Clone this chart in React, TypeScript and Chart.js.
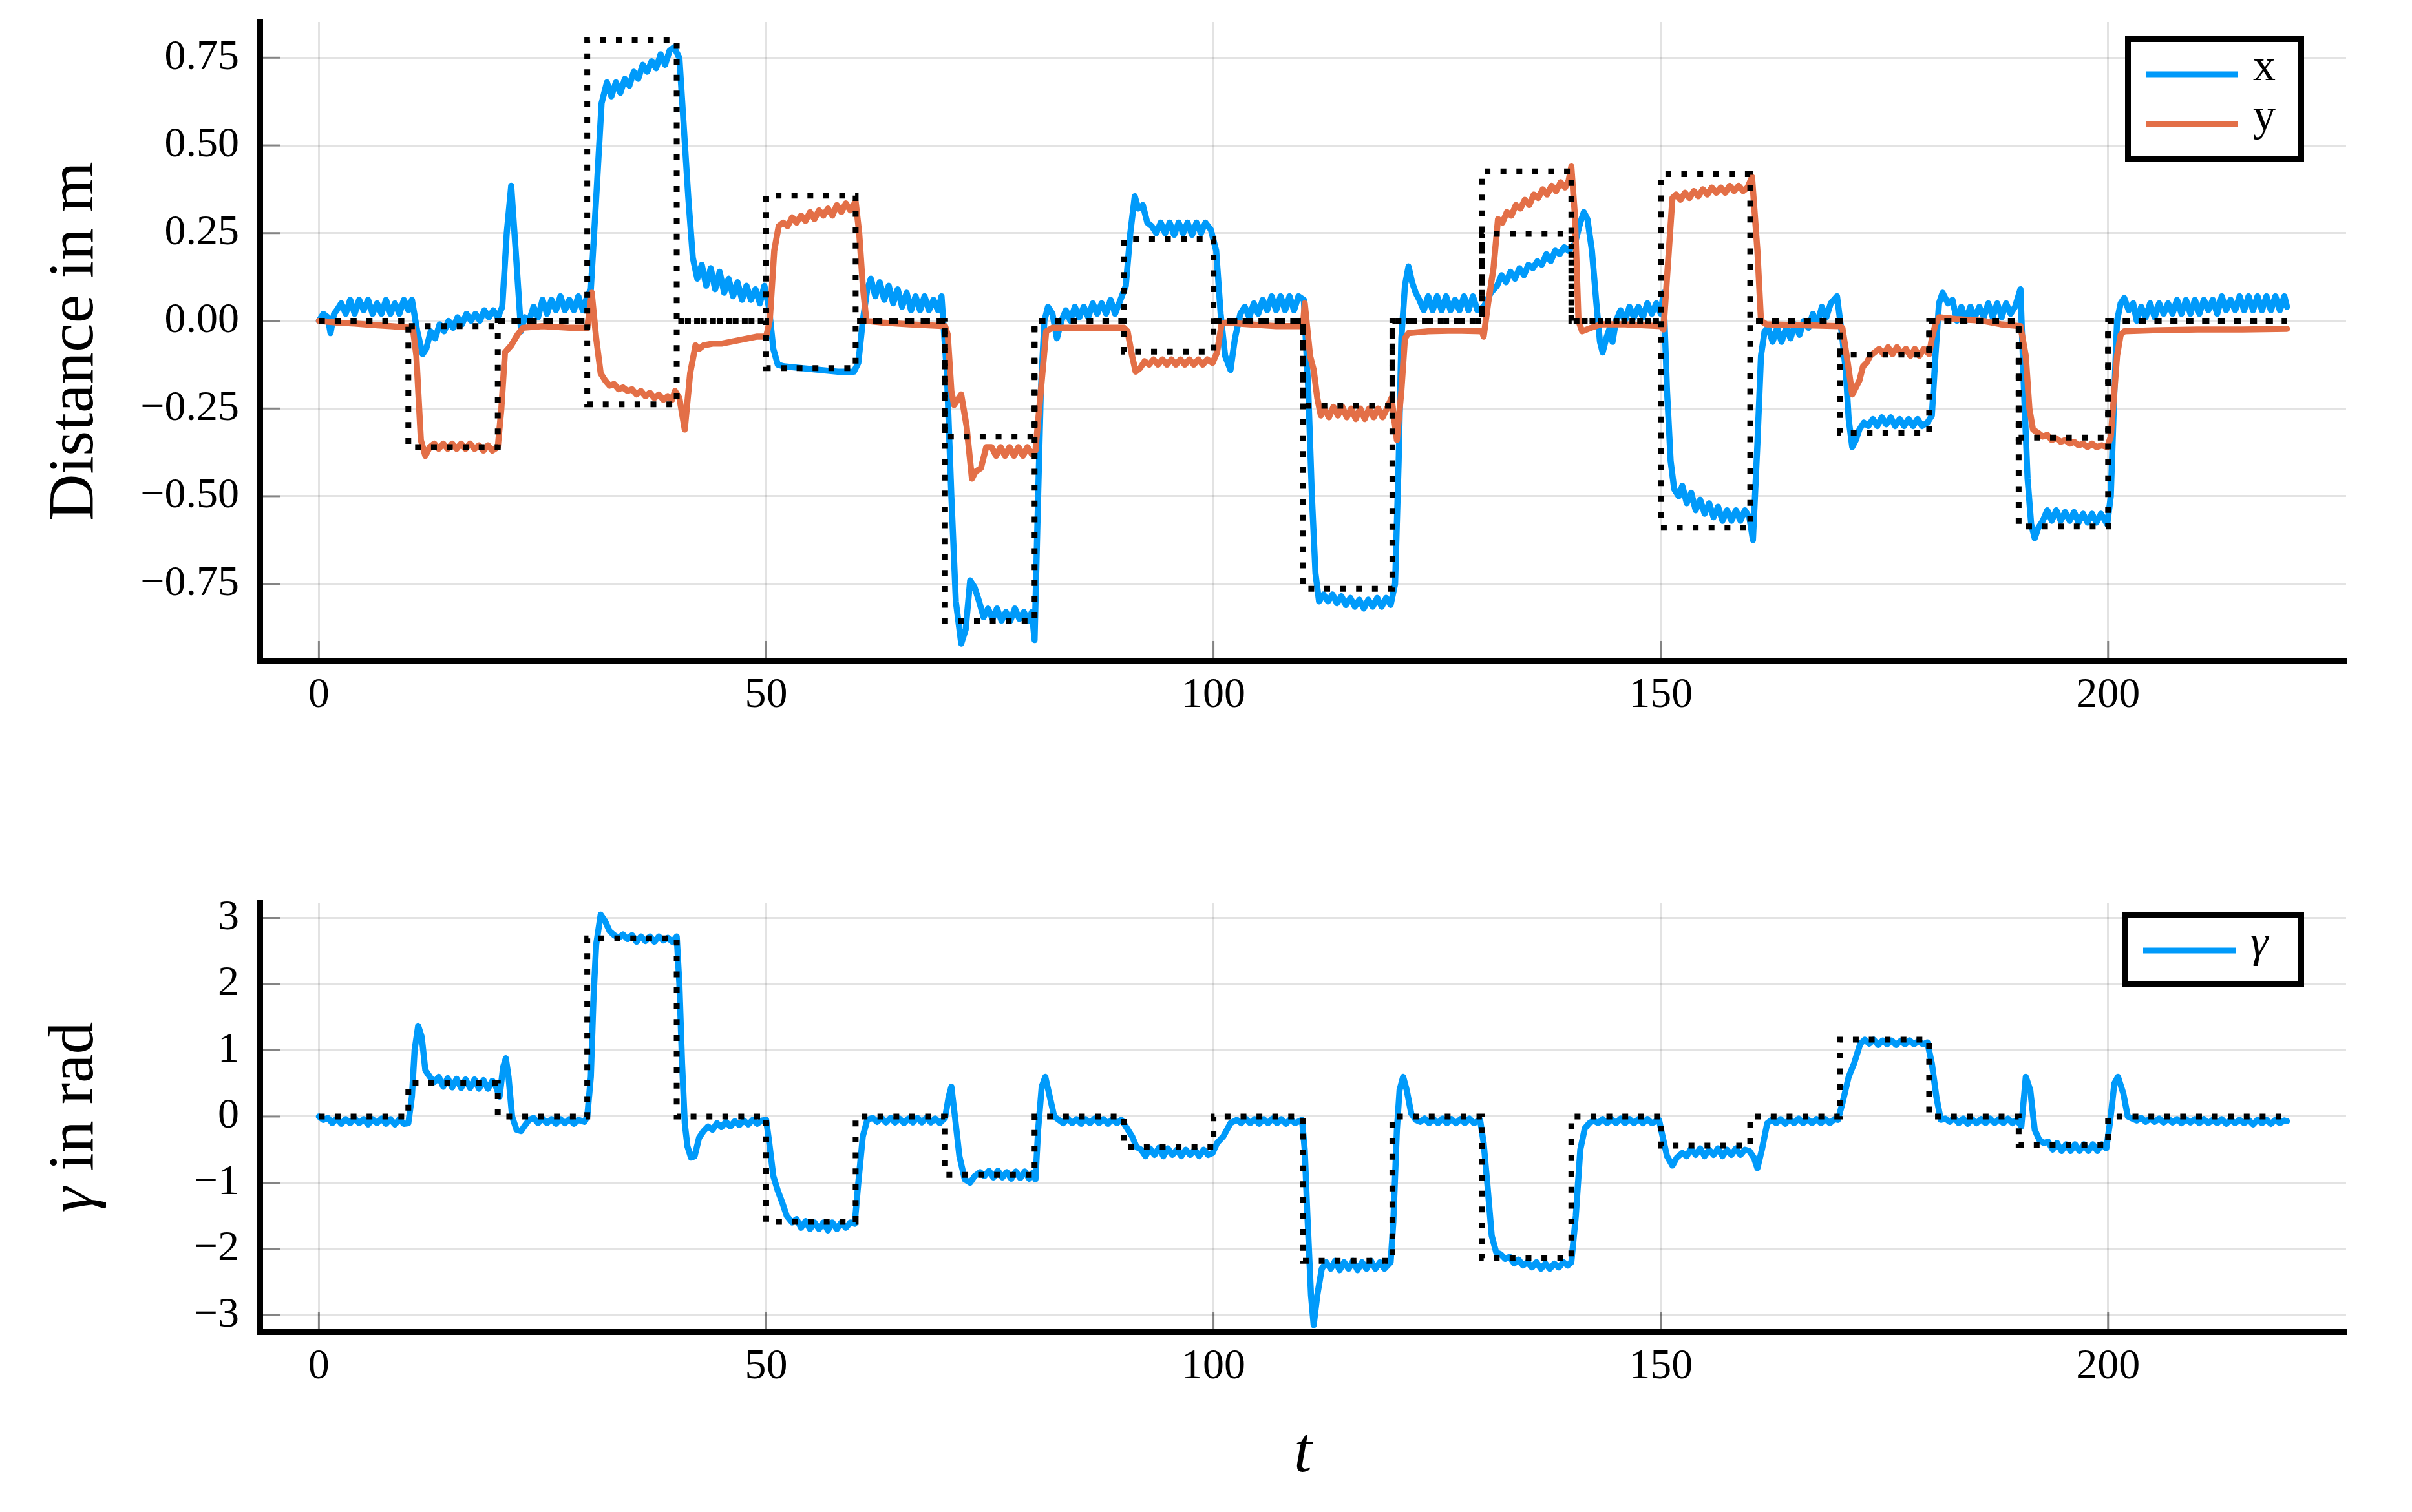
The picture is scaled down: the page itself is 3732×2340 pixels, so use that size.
import React, { useEffect, useRef } from 'react';
import { Chart, registerables } from 'chart.js';

Chart.register(...registerables);

const FONT = '"Liberation Serif", "Times New Roman", serif';
const BLUE = '#009AFA';
const ORANGE = '#E36F47';
const GRID = 'rgba(0,0,0,0.11)';

const W = 3732;
const H1 = 1190;
const H2 = 1150;

// ---------- axis ticks ----------
const xTicks = [0, 50, 100, 150, 200];
const distTicks = [-0.75, -0.5, -0.25, 0, 0.25, 0.5, 0.75];
const gammaTicks = [-3, -2, -1, 0, 1, 2, 3];

// ---------- reference (dotted) step signals ----------
const refStarts = [10, 30, 50, 70, 90, 110, 130, 150, 170, 190];
const refDuration = 10;
const refEnd = 220;
const refXValues = [-0.015, 0.8, -0.135, -0.855, 0.232, -0.764, 0.248, -0.59, -0.319, -0.586];
const refYValues = [-0.36, -0.238, 0.357, -0.33, -0.088, -0.242, 0.426, 0.418, -0.096, -0.333];
const refGammaValues = [0.505, 2.69, -1.59, -0.88, -0.46, -2.18, -2.14, -0.44, 1.16, -0.43];

// ---------- measured signals [t, value] ----------
const xSeries: [number, number][] = [
  [0, 0], [0.5, 0.02], [1, 0.01], [1.3, -0.035], [1.7, 0.02], [2, 0.03], [2.5, 0.05], [3, 0.02], [3.5, 0.06], [4, 0.02],
  [4.5, 0.06], [5, 0.03], [5.5, 0.06], [6, 0.02], [6.5, 0.05], [7, 0.02], [7.5, 0.06], [8, 0.02], [8.5, 0.05], [9, 0.02],
  [9.5, 0.06], [10, 0.03], [10.4, 0.06], [11, -0.03], [11.6, -0.095], [12, -0.08], [12.5, -0.03], [13, -0.05], [13.5, -0.01], [14, -0.03],
  [14.5, 0], [15, -0.02], [15.5, 0.01], [16, -0.01], [16.5, 0.02], [17, 0], [17.5, 0.02], [18, 0], [18.5, 0.03], [19, 0.01],
  [19.5, 0.03], [20, 0.01], [20.5, 0.04], [21, 0.25], [21.5, 0.385], [22, 0.2], [22.6, -0.03], [23, 0.01], [23.5, 0], [24, 0.04],
  [24.5, 0.01], [25, 0.06], [25.5, 0.02], [26, 0.06], [26.5, 0.03], [27, 0.07], [27.5, 0.03], [28, 0.06], [28.5, 0.03], [29, 0.07],
  [29.5, 0.03], [30, 0.07], [30.4, 0.09], [31, 0.35], [31.6, 0.62], [32.2, 0.68], [32.7, 0.64], [33.2, 0.68], [33.7, 0.65], [34.2, 0.69],
  [34.7, 0.67], [35.2, 0.71], [35.7, 0.69], [36.2, 0.73], [36.7, 0.71], [37.2, 0.74], [37.7, 0.72], [38.2, 0.76], [38.7, 0.73], [39.2, 0.77],
  [39.7, 0.78], [40.3, 0.75], [40.8, 0.55], [41.3, 0.35], [41.8, 0.18], [42.3, 0.12], [42.8, 0.16], [43.3, 0.1], [43.8, 0.15], [44.3, 0.09],
  [44.8, 0.14], [45.3, 0.08], [45.8, 0.12], [46.3, 0.07], [46.8, 0.11], [47.3, 0.06], [47.8, 0.1], [48.3, 0.06], [48.8, 0.09], [49.3, 0.05],
  [49.8, 0.1], [50.3, 0.04], [50.8, -0.08], [51.3, -0.125], [52, -0.13], [54, -0.135], [56, -0.14], [58, -0.145], [59.8, -0.145], [60.3, -0.12],
  [60.8, 0], [61.3, 0.09], [61.7, 0.12], [62.2, 0.07], [62.7, 0.11], [63.2, 0.06], [63.7, 0.1], [64.2, 0.05], [64.7, 0.09], [65.2, 0.04],
  [65.7, 0.08], [66.2, 0.03], [66.7, 0.07], [67.2, 0.03], [67.7, 0.07], [68.2, 0.03], [68.7, 0.06], [69.2, 0.03], [69.6, 0.07], [70.2, -0.15],
  [70.7, -0.5], [71.2, -0.8], [71.8, -0.92], [72.3, -0.88], [72.8, -0.74], [73.3, -0.76], [73.8, -0.8], [74.3, -0.845], [74.8, -0.82], [75.3, -0.85],
  [75.8, -0.82], [76.3, -0.855], [76.8, -0.83], [77.3, -0.855], [77.8, -0.82], [78.3, -0.85], [78.8, -0.83], [79.3, -0.855], [79.7, -0.83], [80, -0.91],
  [80.3, -0.6], [80.7, -0.2], [81.1, 0], [81.5, 0.04], [82, 0.02], [82.5, -0.05], [83, 0], [83.5, 0.03], [84, 0], [84.5, 0.04],
  [85, 0.01], [85.5, 0.04], [86, 0.01], [86.5, 0.05], [87, 0.02], [87.5, 0.05], [88, 0.02], [88.5, 0.06], [89, 0.02], [89.6, 0.06],
  [90.2, 0.1], [90.7, 0.25], [91.2, 0.355], [91.6, 0.32], [92.1, 0.33], [92.6, 0.28], [93.1, 0.27], [93.6, 0.25], [94.1, 0.28], [94.6, 0.25],
  [95.1, 0.28], [95.6, 0.245], [96.1, 0.28], [96.6, 0.25], [97.1, 0.28], [97.6, 0.245], [98.1, 0.28], [98.6, 0.25], [99.1, 0.28], [99.7, 0.26],
  [100.3, 0.2], [100.8, 0.02], [101.3, -0.1], [101.9, -0.14], [102.4, -0.05], [103, 0.02], [103.5, 0.04], [104, 0.01], [104.5, 0.05], [105, 0.02],
  [105.5, 0.06], [106, 0.03], [106.5, 0.07], [107, 0.03], [107.5, 0.07], [108, 0.03], [108.5, 0.07], [109, 0.03], [109.5, 0.07], [110.1, 0.06],
  [110.6, -0.2], [111, -0.5], [111.4, -0.72], [111.8, -0.8], [112.3, -0.78], [112.8, -0.8], [113.3, -0.78], [113.8, -0.805], [114.3, -0.785], [114.8, -0.81],
  [115.3, -0.79], [115.8, -0.815], [116.3, -0.795], [116.8, -0.82], [117.3, -0.795], [117.8, -0.815], [118.3, -0.79], [118.8, -0.815], [119.3, -0.79], [119.8, -0.81],
  [120.3, -0.75], [120.7, -0.4], [121, -0.05], [121.4, 0.1], [121.8, 0.155], [122.2, 0.11], [122.6, 0.08], [123, 0.06], [123.5, 0.03], [124, 0.07],
  [124.5, 0.03], [125, 0.07], [125.5, 0.03], [126, 0.07], [126.5, 0.03], [127, 0.06], [127.5, 0.03], [128, 0.07], [128.5, 0.03], [129, 0.07],
  [129.5, 0.03], [130.2, 0.04], [131, 0.08], [131.7, 0.1], [132.2, 0.13], [132.7, 0.11], [133.2, 0.14], [133.7, 0.12], [134.2, 0.15], [134.7, 0.13],
  [135.2, 0.16], [135.7, 0.15], [136.2, 0.17], [136.7, 0.16], [137.2, 0.19], [137.7, 0.17], [138.2, 0.2], [138.7, 0.19], [139.2, 0.21], [139.7, 0.2],
  [140.4, 0.22], [141, 0.28], [141.4, 0.31], [141.8, 0.29], [142.3, 0.2], [142.8, 0.05], [143.2, -0.06], [143.5, -0.09], [143.9, -0.05], [144.3, -0.02],
  [144.6, -0.06], [145, 0], [145.5, 0.03], [146, 0], [146.5, 0.04], [147, 0.01], [147.5, 0.04], [148, 0.01], [148.5, 0.05], [149, 0.02],
  [149.5, 0.05], [150, 0.02], [150.3, 0.08], [150.7, -0.2], [151.1, -0.4], [151.5, -0.48], [152, -0.5], [152.4, -0.47], [152.9, -0.52], [153.4, -0.49],
  [153.9, -0.54], [154.4, -0.51], [154.9, -0.55], [155.4, -0.52], [155.9, -0.56], [156.4, -0.53], [156.9, -0.57], [157.4, -0.54], [157.9, -0.57], [158.4, -0.54],
  [158.9, -0.57], [159.4, -0.54], [159.9, -0.56], [160.3, -0.625], [160.8, -0.35], [161.2, -0.1], [161.6, -0.03], [162, -0.02], [162.5, -0.06], [163, -0.02],
  [163.5, -0.06], [164, -0.02], [164.5, -0.05], [165, -0.01], [165.5, -0.04], [166, 0], [166.5, -0.02], [167, 0.02], [167.5, -0.01], [168, 0.04],
  [168.5, 0.01], [169, 0.05], [169.7, 0.07], [170.3, -0.05], [170.7, -0.15], [171, -0.28], [171.4, -0.36], [171.8, -0.34], [172.2, -0.31], [172.7, -0.29],
  [173.2, -0.3], [173.7, -0.28], [174.2, -0.3], [174.7, -0.275], [175.2, -0.295], [175.7, -0.275], [176.2, -0.3], [176.7, -0.28], [177.2, -0.3], [177.7, -0.28],
  [178.2, -0.3], [178.7, -0.28], [179.2, -0.3], [179.8, -0.29], [180.3, -0.27], [180.7, -0.1], [181.1, 0.05], [181.5, 0.08], [182.1, 0.05], [182.6, 0.06],
  [183.1, 0], [183.6, 0.04], [184.1, 0], [184.6, 0.04], [185.1, 0.01], [185.6, 0.04], [186.1, 0.01], [186.6, 0.05], [187.1, 0.01], [187.6, 0.05],
  [188.1, 0.01], [188.6, 0.05], [189.1, 0.02], [189.6, 0.04], [190.2, 0.09], [190.6, -0.2], [191, -0.45], [191.4, -0.58], [191.8, -0.62], [192.2, -0.59],
  [192.7, -0.57], [193.2, -0.54], [193.7, -0.57], [194.2, -0.54], [194.7, -0.57], [195.2, -0.545], [195.7, -0.57], [196.2, -0.545], [196.7, -0.575], [197.2, -0.55],
  [197.7, -0.575], [198.2, -0.55], [198.7, -0.575], [199.2, -0.55], [199.9, -0.58], [200.3, -0.5], [200.7, -0.2], [201, 0], [201.4, 0.05], [201.8, 0.065],
  [202.3, 0.03], [202.8, 0.05], [203.2, 0], [203.7, 0.04], [204.2, 0.01], [204.7, 0.05], [205.2, 0.01], [205.7, 0.05], [206.2, 0.02], [206.7, 0.05],
  [207.2, 0.02], [207.7, 0.06], [208.2, 0.02], [208.7, 0.06], [209.2, 0.02], [209.7, 0.06], [210.2, 0.02], [210.7, 0.06], [211.2, 0.03], [211.7, 0.06],
  [212.2, 0.02], [212.7, 0.07], [213.2, 0.03], [213.7, 0.06], [214.2, 0.03], [214.7, 0.07], [215.2, 0.03], [215.7, 0.07], [216.2, 0.03], [216.7, 0.07],
  [217.2, 0.03], [217.7, 0.07], [218.2, 0.03], [218.7, 0.07], [219.2, 0.03], [219.7, 0.07], [220, 0.04],
];

const ySeries: [number, number][] = [
  [0, 0], [2, -0.005], [4, -0.008], [6, -0.012], [8, -0.015], [10.5, -0.02], [10.9, -0.1], [11.4, -0.34], [11.9, -0.385], [12.4, -0.36],
  [12.9, -0.35], [13.4, -0.365], [13.9, -0.35], [14.4, -0.365], [14.9, -0.35], [15.4, -0.365], [15.9, -0.35], [16.4, -0.365], [16.9, -0.35], [17.4, -0.365],
  [17.9, -0.355], [18.4, -0.37], [18.9, -0.355], [19.4, -0.37], [20, -0.36], [20.4, -0.25], [20.8, -0.09], [21.5, -0.07], [22.2, -0.04], [22.8, -0.02],
  [25, -0.015], [28, -0.02], [30, -0.02], [30.5, 0.08], [31, -0.05], [31.5, -0.15], [32, -0.17], [32.5, -0.185], [33, -0.18], [33.5, -0.195],
  [34, -0.19], [34.5, -0.2], [35, -0.195], [35.5, -0.21], [36, -0.2], [36.5, -0.215], [37, -0.205], [37.5, -0.22], [38, -0.21], [38.5, -0.225],
  [39, -0.215], [39.5, -0.225], [39.8, -0.2], [40.3, -0.22], [40.9, -0.31], [41.5, -0.15], [42.1, -0.07], [42.5, -0.08], [43, -0.07], [44, -0.065],
  [45, -0.065], [46, -0.06], [47, -0.055], [48, -0.05], [49, -0.045], [50, -0.045], [50.4, 0], [50.9, 0.2], [51.4, 0.27], [51.9, 0.28],
  [52.4, 0.27], [52.9, 0.295], [53.4, 0.28], [53.9, 0.3], [54.4, 0.285], [54.9, 0.31], [55.4, 0.29], [55.9, 0.315], [56.4, 0.3], [56.9, 0.32],
  [57.4, 0.3], [57.9, 0.33], [58.4, 0.31], [58.9, 0.335], [59.4, 0.315], [60, 0.34], [60.4, 0.25], [60.8, 0.1], [61.2, 0], [63, -0.005],
  [66, -0.01], [70, -0.015], [70.3, -0.04], [70.7, -0.2], [71, -0.24], [71.8, -0.21], [72.4, -0.3], [73, -0.45], [73.4, -0.43], [74, -0.42],
  [74.6, -0.36], [75.2, -0.36], [75.7, -0.385], [76.2, -0.36], [76.7, -0.385], [77.2, -0.36], [77.7, -0.385], [78.2, -0.36], [78.7, -0.385], [79.2, -0.36],
  [79.7, -0.38], [80.1, -0.37], [80.7, -0.2], [81.3, -0.03], [82, -0.02], [85, -0.02], [88, -0.02], [90, -0.02], [90.4, -0.03], [90.9, -0.1],
  [91.3, -0.145], [91.8, -0.135], [92.3, -0.115], [92.8, -0.125], [93.3, -0.11], [93.8, -0.125], [94.3, -0.11], [94.8, -0.125], [95.3, -0.11], [95.8, -0.125],
  [96.3, -0.11], [96.8, -0.125], [97.3, -0.11], [97.8, -0.125], [98.3, -0.11], [98.8, -0.125], [99.3, -0.11], [99.9, -0.12], [100.4, -0.09], [100.9, -0.01],
  [101.3, -0.005], [104, -0.01], [107, -0.015], [110, -0.015], [110.2, 0.05], [110.8, -0.1], [111.2, -0.14], [111.6, -0.22], [112, -0.27], [112.4, -0.25],
  [112.9, -0.275], [113.4, -0.245], [113.9, -0.27], [114.4, -0.245], [114.9, -0.275], [115.4, -0.25], [115.9, -0.28], [116.4, -0.25], [116.9, -0.28], [117.4, -0.25],
  [117.9, -0.275], [118.4, -0.25], [118.9, -0.275], [119.4, -0.25], [119.9, -0.22], [120.5, -0.34], [121, -0.2], [121.4, -0.05], [121.8, -0.035], [124, -0.03],
  [127, -0.028], [130, -0.03], [130.2, -0.045], [130.7, 0.05], [131.3, 0.15], [131.8, 0.29], [132.3, 0.28], [132.8, 0.31], [133.3, 0.3], [133.8, 0.33],
  [134.3, 0.32], [134.8, 0.345], [135.3, 0.33], [135.8, 0.36], [136.3, 0.35], [136.8, 0.375], [137.3, 0.36], [137.8, 0.385], [138.3, 0.37], [138.8, 0.395],
  [139.3, 0.38], [139.7, 0.4], [140, 0.44], [140.4, 0.3], [140.8, 0], [141.2, -0.03], [142.2, -0.02], [143.3, -0.01], [146, -0.01], [150, -0.015],
  [150.3, -0.025], [150.9, 0.2], [151.3, 0.35], [151.7, 0.36], [152.2, 0.345], [152.7, 0.365], [153.2, 0.35], [153.7, 0.37], [154.2, 0.355], [154.7, 0.375],
  [155.2, 0.36], [155.7, 0.38], [156.2, 0.365], [156.7, 0.38], [157.2, 0.365], [157.7, 0.385], [158.2, 0.37], [158.7, 0.385], [159.2, 0.37], [159.7, 0.38],
  [160.2, 0.41], [160.8, 0.2], [161.2, 0], [161.8, -0.01], [165, -0.012], [170, -0.015], [170.3, -0.02], [170.9, -0.12], [171.4, -0.21], [171.8, -0.19],
  [172.2, -0.17], [172.6, -0.13], [173, -0.12], [173.4, -0.1], [173.9, -0.09], [174.4, -0.08], [174.9, -0.095], [175.4, -0.075], [175.9, -0.095], [176.4, -0.075],
  [176.9, -0.095], [177.4, -0.08], [177.9, -0.1], [178.4, -0.08], [178.9, -0.1], [179.4, -0.08], [180, -0.095], [180.3, -0.05], [180.7, -0.01], [181.1, 0.01],
  [183, 0.005], [186, 0], [188, -0.01], [190.2, -0.015], [190.8, -0.1], [191.2, -0.25], [191.6, -0.31], [192.2, -0.32], [192.7, -0.33], [193.2, -0.325],
  [193.7, -0.34], [194.2, -0.335], [194.7, -0.345], [195.2, -0.34], [195.7, -0.35], [196.2, -0.345], [196.7, -0.355], [197.2, -0.35], [197.7, -0.36], [198.2, -0.35],
  [198.7, -0.36], [199.3, -0.355], [199.9, -0.36], [200.3, -0.33], [200.7, -0.2], [201, -0.1], [201.4, -0.04], [201.8, -0.03], [205, -0.027], [210, -0.025],
  [215, -0.025], [220, -0.023],
];

const gammaSeries: [number, number][] = [
  [0, 0], [0.5, -0.05], [1, -0.02], [1.5, -0.1], [2, -0.03], [2.5, -0.11], [3, -0.04], [3.5, -0.1], [4, -0.03], [4.5, -0.1],
  [5, -0.04], [5.5, -0.12], [6, -0.04], [6.5, -0.1], [7, -0.03], [7.5, -0.11], [8, -0.04], [8.5, -0.12], [9, -0.04], [9.5, -0.11],
  [10, -0.1], [10.4, 0.3], [10.7, 1.0], [11.1, 1.37], [11.5, 1.2], [11.9, 0.7], [12.4, 0.6], [12.9, 0.52], [13.4, 0.6], [13.9, 0.45],
  [14.4, 0.58], [14.9, 0.44], [15.4, 0.57], [15.9, 0.43], [16.4, 0.56], [16.9, 0.43], [17.4, 0.56], [17.9, 0.42], [18.4, 0.55], [18.9, 0.42],
  [19.4, 0.54], [19.8, 0.45], [20.2, 0.3], [20.6, 0.75], [20.9, 0.88], [21.2, 0.6], [21.6, 0], [22.1, -0.2], [22.6, -0.22], [23, -0.14],
  [23.5, -0.05], [24, -0.02], [24.5, -0.1], [25, -0.03], [25.5, -0.1], [26, -0.04], [26.5, -0.11], [27, -0.04], [27.5, -0.1], [28, -0.04],
  [28.5, -0.11], [29, -0.05], [29.7, -0.08], [30, 0], [30.4, 0.6], [30.7, 1.8], [31, 2.6], [31.5, 3.05], [32, 2.95], [32.5, 2.8],
  [33, 2.74], [33.5, 2.7], [34, 2.75], [34.5, 2.68], [35, 2.74], [35.5, 2.64], [36, 2.72], [36.5, 2.65], [37, 2.72], [37.5, 2.64],
  [38, 2.72], [38.5, 2.66], [39, 2.7], [39.5, 2.64], [40, 2.72], [40.3, 2.0], [40.6, 0.8], [40.9, -0.1], [41.2, -0.45], [41.6, -0.62],
  [42, -0.6], [42.5, -0.32], [43, -0.22], [43.5, -0.15], [44, -0.2], [44.5, -0.1], [45, -0.16], [45.5, -0.08], [46, -0.15], [46.5, -0.07],
  [47, -0.13], [47.5, -0.06], [48, -0.12], [48.5, -0.05], [49, -0.11], [49.5, -0.06], [50, -0.05], [50.3, -0.35], [50.8, -0.9], [51.3, -1.12],
  [51.8, -1.3], [52.3, -1.5], [52.9, -1.6], [53.4, -1.55], [53.9, -1.68], [54.4, -1.58], [54.9, -1.7], [55.4, -1.6], [55.9, -1.7], [56.4, -1.6],
  [56.9, -1.72], [57.4, -1.6], [57.9, -1.7], [58.4, -1.6], [58.9, -1.68], [59.4, -1.6], [59.9, -1.62], [60.3, -1.0], [60.8, -0.3], [61.3, -0.05],
  [61.9, -0.02], [62.4, -0.08], [62.9, -0.02], [63.4, -0.09], [63.9, -0.02], [64.4, -0.09], [64.9, -0.03], [65.4, -0.1], [65.9, -0.03], [66.4, -0.09],
  [66.9, -0.02], [67.4, -0.09], [67.9, -0.02], [68.4, -0.09], [68.9, -0.03], [69.4, -0.1], [70, -0.02], [70.4, 0.3], [70.7, 0.45], [71.1, 0],
  [71.6, -0.6], [72.2, -0.95], [72.8, -1.0], [73.3, -0.9], [73.9, -0.84], [74.4, -0.9], [74.9, -0.82], [75.4, -0.92], [75.9, -0.82], [76.4, -0.92],
  [76.9, -0.84], [77.4, -0.94], [77.9, -0.83], [78.4, -0.93], [78.9, -0.83], [79.4, -0.94], [79.8, -0.85], [80.1, -0.95], [80.4, -0.2], [80.8, 0.45],
  [81.2, 0.6], [81.7, 0.3], [82.2, 0], [82.7, -0.05], [83.2, -0.1], [83.7, -0.03], [84.2, -0.1], [84.7, -0.04], [85.2, -0.11], [85.7, -0.04],
  [86.2, -0.1], [86.7, -0.03], [87.2, -0.1], [87.7, -0.04], [88.2, -0.11], [88.7, -0.04], [89.2, -0.1], [89.7, -0.05], [90.2, -0.15], [90.9, -0.3],
  [91.4, -0.46], [91.9, -0.5], [92.4, -0.6], [92.9, -0.48], [93.4, -0.58], [93.9, -0.47], [94.4, -0.6], [94.9, -0.48], [95.4, -0.58], [95.9, -0.5],
  [96.4, -0.6], [96.9, -0.5], [97.4, -0.58], [97.9, -0.5], [98.4, -0.6], [98.9, -0.5], [99.4, -0.58], [99.9, -0.55], [100.4, -0.4], [101.1, -0.3],
  [101.9, -0.1], [102.6, -0.05], [103.1, -0.1], [103.6, -0.03], [104.1, -0.1], [104.6, -0.04], [105.1, -0.11], [105.6, -0.04], [106.1, -0.1], [106.6, -0.03],
  [107.1, -0.1], [107.6, -0.04], [108.1, -0.11], [108.6, -0.04], [109.1, -0.1], [109.9, -0.05], [110.2, -0.5], [110.5, -1.5], [110.9, -2.7], [111.2, -3.15],
  [111.6, -2.7], [112.1, -2.3], [112.6, -2.2], [113.1, -2.3], [113.6, -2.18], [114.1, -2.32], [114.6, -2.2], [115.1, -2.3], [115.6, -2.18], [116.1, -2.32],
  [116.6, -2.2], [117.1, -2.3], [117.6, -2.18], [118.1, -2.3], [118.6, -2.2], [119.1, -2.3], [119.8, -2.2], [120.1, -1.6], [120.5, -0.2], [120.8, 0.4],
  [121.2, 0.6], [121.6, 0.4], [122.1, 0.05], [122.6, -0.05], [123.1, -0.08], [123.6, -0.03], [124.1, -0.1], [124.6, -0.04], [125.1, -0.1], [125.6, -0.03],
  [126.1, -0.1], [126.6, -0.04], [127.1, -0.1], [127.6, -0.04], [128.1, -0.1], [128.6, -0.03], [129.1, -0.1], [129.8, -0.05], [130.2, -0.4], [130.6, -1.0],
  [131.1, -1.8], [131.6, -2.05], [132.1, -2.08], [132.6, -2.15], [133.1, -2.12], [133.6, -2.22], [134.1, -2.16], [134.6, -2.25], [135.1, -2.2], [135.6, -2.28],
  [136.1, -2.2], [136.6, -2.3], [137.1, -2.22], [137.6, -2.3], [138.1, -2.22], [138.6, -2.28], [139.1, -2.2], [139.6, -2.25], [140, -2.2], [140.5, -1.5],
  [141, -0.5], [141.5, -0.18], [142, -0.1], [142.5, -0.06], [143, -0.1], [143.5, -0.04], [144, -0.1], [144.5, -0.04], [145, -0.1], [145.5, -0.03],
  [146, -0.1], [146.5, -0.04], [147, -0.1], [147.5, -0.04], [148, -0.1], [148.5, -0.04], [149, -0.1], [149.8, -0.05], [150.2, -0.3], [150.7, -0.6],
  [151.3, -0.74], [151.8, -0.62], [152.4, -0.55], [152.9, -0.6], [153.4, -0.48], [153.9, -0.58], [154.4, -0.48], [154.9, -0.6], [155.4, -0.5], [155.9, -0.58],
  [156.4, -0.48], [156.9, -0.6], [157.4, -0.5], [157.9, -0.58], [158.4, -0.48], [158.9, -0.58], [159.4, -0.5], [159.9, -0.52], [160.4, -0.62], [160.8, -0.78],
  [161.3, -0.5], [161.9, -0.1], [162.4, -0.05], [162.9, -0.1], [163.4, -0.04], [163.9, -0.11], [164.4, -0.04], [164.9, -0.1], [165.4, -0.03], [165.9, -0.1],
  [166.4, -0.04], [166.9, -0.1], [167.4, -0.04], [167.9, -0.1], [168.4, -0.04], [168.9, -0.1], [169.4, -0.04], [169.8, -0.05], [170.3, 0.2], [171, 0.6],
  [171.6, 0.8], [172.3, 1.1], [172.8, 1.16], [173.3, 1.1], [173.8, 1.16], [174.3, 1.08], [174.8, 1.15], [175.3, 1.09], [175.8, 1.15], [176.3, 1.08],
  [176.8, 1.14], [177.3, 1.09], [177.8, 1.15], [178.3, 1.09], [178.8, 1.14], [179.3, 1.09], [179.8, 1.12], [180.3, 0.8], [180.8, 0.3], [181.3, -0.05],
  [181.8, -0.03], [182.3, -0.08], [182.8, -0.02], [183.3, -0.1], [183.8, -0.03], [184.3, -0.11], [184.8, -0.04], [185.3, -0.1], [185.8, -0.04], [186.3, -0.1],
  [186.8, -0.03], [187.3, -0.1], [187.8, -0.04], [188.3, -0.1], [188.8, -0.03], [189.3, -0.1], [189.8, -0.05], [190.3, -0.15], [190.8, 0.6], [191.3, 0.4],
  [191.8, -0.2], [192.3, -0.35], [192.8, -0.4], [193.3, -0.38], [193.8, -0.5], [194.3, -0.4], [194.8, -0.52], [195.3, -0.42], [195.8, -0.52], [196.3, -0.42],
  [196.8, -0.52], [197.3, -0.42], [197.8, -0.52], [198.3, -0.42], [198.8, -0.52], [199.3, -0.42], [199.8, -0.48], [200.2, -0.1], [200.7, 0.5], [201.1, 0.6],
  [201.7, 0.35], [202.2, 0], [202.7, -0.03], [203.2, -0.06], [203.7, -0.02], [204.2, -0.08], [204.7, -0.03], [205.2, -0.08], [205.7, -0.03], [206.2, -0.09],
  [206.7, -0.03], [207.2, -0.09], [207.7, -0.04], [208.2, -0.1], [208.7, -0.04], [209.2, -0.09], [209.7, -0.04], [210.2, -0.1], [210.7, -0.04], [211.2, -0.1],
  [211.7, -0.05], [212.2, -0.1], [212.7, -0.04], [213.2, -0.11], [213.7, -0.05], [214.2, -0.1], [214.7, -0.05], [215.2, -0.1], [215.7, -0.05], [216.2, -0.12],
  [216.7, -0.05], [217.2, -0.1], [217.7, -0.05], [218.2, -0.11], [218.7, -0.05], [219.2, -0.1], [219.7, -0.06], [220, -0.07],
];

// ---------- helpers ----------
type XY = { x: number; y: number | null };
const pts = (a: [number, number][]): XY[] => a.map(([x, y]) => ({ x, y }));

function stepPath(values: number[]): XY[] {
  const out: XY[] = [{ x: 0, y: 0 }];
  refStarts.forEach((s, i) => {
    out.push({ x: s, y: 0 }, { x: s, y: values[i] }, { x: s + refDuration, y: values[i] }, { x: s + refDuration, y: 0 });
  });
  out.push({ x: refEnd, y: 0 });
  return out;
}

const fmt = (v: number, d: number) => (v < -1e-9 ? '\u2212' : '') + Math.abs(v).toFixed(d);

const X_MIN = -6.6;
const X_MAX = 226.6;

function refDataset(data: XY[]) {
  return {
    data,
    borderColor: '#000',
    borderWidth: 9,
    borderDash: [9, 15.6],
    borderCapStyle: 'butt',
    borderJoinStyle: 'miter',
    pointRadius: 0,
    tension: 0,
    order: 0,
  };
}

function sigDataset(data: XY[], color: string, order: number) {
  return {
    data,
    borderColor: color,
    borderWidth: 9.5,
    borderJoinStyle: 'round',
    borderCapStyle: 'round',
    pointRadius: 0,
    tension: 0,
    order,
  };
}

function xScale(height: number) {
  return {
    type: 'linear',
    min: X_MIN,
    max: X_MAX,
    afterBuildTicks: (axis: any) => { axis.ticks = xTicks.map((value) => ({ value })); },
    afterFit: (axis: any) => {
      axis.height = height;
      axis.paddingLeft = 0;
      axis.paddingRight = 0;
    },
    ticks: {
      callback: (v: any) => fmt(Number(v), 0),
      font: { family: FONT, size: 66 },
      color: '#000',
      padding: 15,
      autoSkip: false,
      maxRotation: 0,
      minRotation: 0,
    },
    grid: { color: GRID, lineWidth: 3, drawTicks: false },
    border: { display: true, color: '#000', width: 9, z: 1 },
  };
}

function yScale(min: number, max: number, ticks: number[], dec: number) {
  return {
    type: 'linear',
    min,
    max,
    afterBuildTicks: (axis: any) => { axis.ticks = ticks.map((value) => ({ value })); },
    afterFit: (axis: any) => {
      axis.width = 402;
      axis.paddingTop = 0;
      axis.paddingBottom = 0;
    },
    ticks: {
      callback: (v: any) => fmt(Number(v), dec),
      font: { family: FONT, size: 66 },
      color: '#000',
      padding: 32,
      autoSkip: false,
    },
    grid: { color: GRID, lineWidth: 3, drawTicks: false },
    border: { display: true, color: '#000', width: 9, z: 1 },
  };
}

const innerTicks = {
  id: 'innerTicks',
  beforeDatasetsDraw(chart: any) {
    const { ctx, chartArea, scales } = chart;
    ctx.save();
    ctx.strokeStyle = 'rgba(0,0,0,0.42)';
    ctx.lineWidth = 3;
    ctx.beginPath();
    scales.x.ticks.forEach((t: any) => {
      const px = scales.x.getPixelForValue(t.value);
      ctx.moveTo(px, chartArea.bottom);
      ctx.lineTo(px, chartArea.bottom - 30);
    });
    scales.y.ticks.forEach((t: any) => {
      const py = scales.y.getPixelForValue(t.value);
      ctx.moveTo(chartArea.left, py);
      ctx.lineTo(chartArea.left + 31, py);
    });
    ctx.stroke();
    ctx.restore();
  },
};

type Entry = { label: string; color: string; italic: boolean };

function boxLegend(entries: Entry[], width: number, height: number, offTop: number, firstRow: number) {
  return {
    id: 'boxLegend',
    afterDatasetsDraw(chart: any) {
      const { ctx, chartArea } = chart;
      const bw = 9;
      const right = chartArea.right - 65;
      const left = right - width;
      const top = chartArea.top + offTop;
      ctx.save();
      ctx.fillStyle = '#fff';
      ctx.fillRect(left, top, width, height);
      ctx.lineWidth = bw;
      ctx.strokeStyle = '#000';
      ctx.strokeRect(left + bw / 2, top + bw / 2, width - bw, height - bw);
      entries.forEach((e, i) => {
        const y = top + firstRow + i * 77;
        ctx.strokeStyle = e.color;
        ctx.lineWidth = 9;
        ctx.lineCap = 'butt';
        ctx.beginPath();
        ctx.moveTo(left + 32, y);
        ctx.lineTo(left + 175, y);
        ctx.stroke();
        ctx.fillStyle = '#000';
        ctx.font = `${e.italic ? 'italic ' : ''}70px ${FONT}`;
        ctx.textBaseline = 'alphabetic';
        ctx.textAlign = 'left';
        ctx.fillText(e.label, left + 198, y + 9);
      });
      ctx.restore();
    },
  };
}

type Run = { text: string; italic: boolean };

function titles(yRuns: Run[], xTitle: Run | null, xBaseline: number) {
  return {
    id: 'titles',
    afterDraw(chart: any) {
      const { ctx, chartArea } = chart;
      const size = 100;
      ctx.save();
      ctx.fillStyle = '#000';
      ctx.textBaseline = 'alphabetic';
      ctx.textAlign = 'left';
      const fonts = yRuns.map((r) => `${r.italic ? 'italic ' : ''}${size}px ${FONT}`);
      const widths = yRuns.map((r, i) => { ctx.font = fonts[i]; return ctx.measureText(r.text).width; });
      const total = widths.reduce((a, b) => a + b, 0);
      const cy = (chartArea.top + chartArea.bottom) / 2;
      ctx.translate(143, cy);
      ctx.rotate(-Math.PI / 2);
      let x = -total / 2;
      yRuns.forEach((r, i) => {
        ctx.font = fonts[i];
        ctx.fillText(r.text, x, 0);
        x += widths[i];
      });
      ctx.restore();
      if (xTitle) {
        ctx.save();
        ctx.fillStyle = '#000';
        ctx.font = `${xTitle.italic ? 'italic ' : ''}${size}px ${FONT}`;
        ctx.textAlign = 'center';
        ctx.textBaseline = 'alphabetic';
        ctx.fillText(xTitle.text, (chartArea.left + chartArea.right) / 2, xBaseline);
        ctx.restore();
      }
    },
  };
}

function baseOptions(padTop: number, xHeight: number, y: any) {
  return {
    responsive: false,
    animation: false,
    devicePixelRatio: 1,
    events: [],
    layout: { padding: { left: 0, top: padTop, right: W - 3630, bottom: 0 } },
    plugins: { legend: { display: false }, tooltip: { enabled: false } },
    scales: { x: xScale(xHeight), y },
  };
}

export default function App() {
  const topRef = useRef<HTMLCanvasElement>(null);
  const botRef = useRef<HTMLCanvasElement>(null);

  useEffect(() => {
    Chart.defaults.font.family = FONT;
    const charts: Chart[] = [];
    if (topRef.current) {
      charts.push(
        new Chart(topRef.current, {
          type: 'line',
          data: {
            datasets: [
              refDataset(stepPath(refXValues)),
              refDataset(stepPath(refYValues)),
              sigDataset(pts(ySeries), ORANGE, 1),
              sigDataset(pts(xSeries), BLUE, 2),
            ] as any,
          },
          options: baseOptions(34, H1 - 1022, yScale(-0.968, 0.852, distTicks, 2)) as any,
          plugins: [
            innerTicks,
            boxLegend(
              [
                { label: 'x', color: BLUE, italic: false },
                { label: 'y', color: ORANGE, italic: false },
              ],
              277, 194, 22, 59,
            ),
            titles([{ text: 'Distance in m', italic: false }], null, 0),
          ] as any,
        }),
      );
    }
    if (botRef.current) {
      charts.push(
        new Chart(botRef.current, {
          type: 'line',
          data: {
            datasets: [
              refDataset(stepPath(refGammaValues)),
              sigDataset(pts(gammaSeries), BLUE, 1),
            ] as any,
          },
          options: baseOptions(1397 - H1, H2 - (2061 - H1), yScale(-3.25, 3.23, gammaTicks, 0)) as any,
          plugins: [
            innerTicks,
            boxLegend([{ label: '\u03B3', color: BLUE, italic: true }], 281, 116, 14, 60),
            titles(
              [
                { text: '\u03B3', italic: true },
                { text: ' in rad', italic: false },
              ],
              { text: 't', italic: true },
              2277 - H1,
            ),
          ] as any,
        }),
      );
    }
    return () => charts.forEach((c) => c.destroy());
  }, []);

  return (
    <div style={{ position: 'fixed', left: 0, top: 0, width: W, height: H1 + H2, background: '#fff' }}>
      <canvas
        ref={topRef}
        width={W}
        height={H1}
        style={{ position: 'absolute', left: 0, top: 0, width: W, height: H1, display: 'block' }}
      />
      <canvas
        ref={botRef}
        width={W}
        height={H2}
        style={{ position: 'absolute', left: 0, top: H1, width: W, height: H2, display: 'block' }}
      />
    </div>
  );
}
